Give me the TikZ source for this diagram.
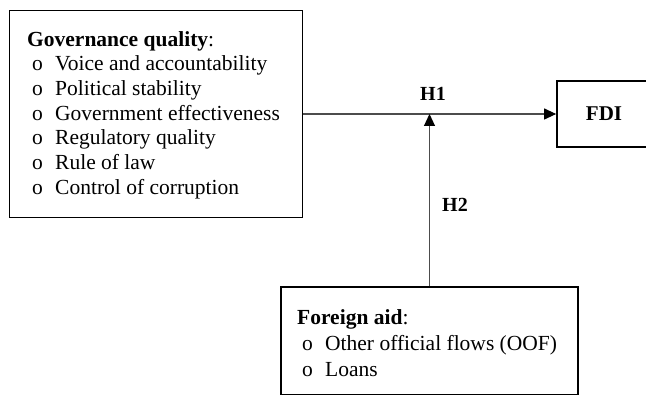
\documentclass[tikz,border=0pt]{standalone}
\usepackage{fontspec}
\setmainfont{Liberation Serif}
\usetikzlibrary{arrows.meta}

\tikzset{
    frame/.style={draw,line width=1.7pt,inner sep=0pt},
    listtext/.style={anchor=north west,inner sep=0pt,align=left,
        font=\fontsize{21.5}{24.7}\selectfont},
    link/.style={-{Triangle[length=12pt,width=11pt,color=black]},line width=1.1pt,draw=black!70},
    hlabel/.style={font=\fontsize{20}{24}\selectfont\bfseries,inner sep=0pt}
}
\newcommand{\itm}[1]{\hspace*{5pt}\makebox[23pt][l]{o}#1}

\begin{document}
\begin{tikzpicture}[x=1pt,y=-1pt]
    \useasboundingbox[fill=white](0,0) rectangle (646,395);

    % boxes
    \node[frame,minimum width=293pt,minimum height=207pt](gov) at (156,114){};
    \node[frame,minimum width=94pt,minimum height=66pt](fdi) at (604,114){};
    \node[frame,minimum width=297pt,minimum height=108pt](aid) at (429.5,341){};

    % texts
    \node[listtext](govtext) at (27,31){\textbf{Governance quality}:\\
        \itm{Voice and accountability}\\
        \itm{Political stability}\\
        \itm{Government effectiveness}\\
        \itm{Regulatory quality}\\
        \itm{Rule of law}\\
        \itm{Control of corruption}};
    \node[hlabel,font=\fontsize{21}{24}\selectfont\bfseries](fditext) at (fdi.center){FDI};
    \node[listtext,font=\fontsize{21.5}{26}\selectfont](aidtext) at (297,309){\textbf{Foreign aid}:\\
        \itm{Other official flows (OOF)}\\
        \itm{Loans}};

    % arrows
    \coordinate(meet) at (aid.north |- gov.east);
    \draw[link](gov.east)--(fdi.west);
    \draw[link](aid.north)--(meet);
    \node[hlabel](h1) at (433,94){H1};
    \node[hlabel](h2) at (455,205){H2};
\end{tikzpicture}
\end{document}
